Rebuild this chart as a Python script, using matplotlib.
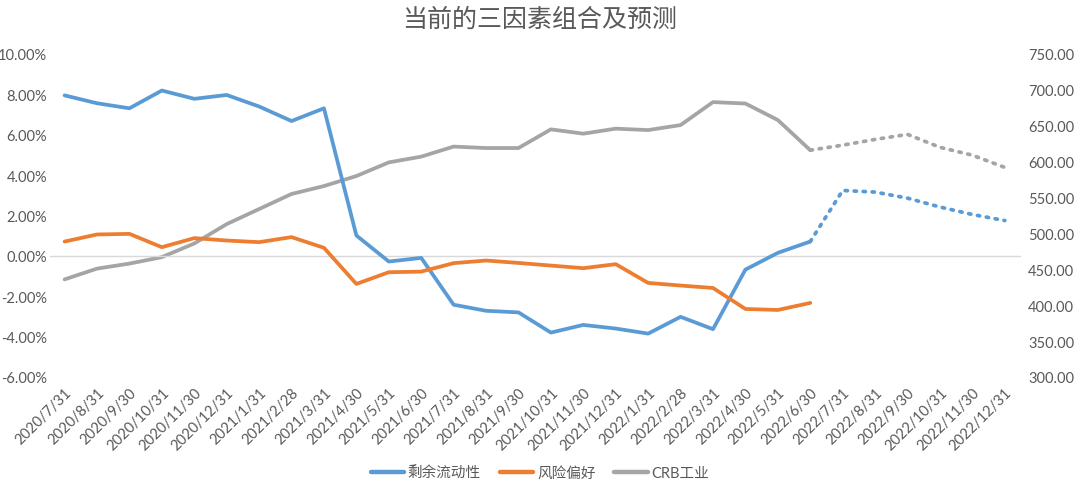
import numpy as np
import matplotlib
matplotlib.use("Agg")
import matplotlib.pyplot as plt
from matplotlib.ticker import FuncFormatter

plt.rcParams['font.family'] = ['Lato', 'Noto Sans CJK SC', 'DejaVu Sans']

dates = ["2020/7/31", "2020/8/31", "2020/9/30", "2020/10/31", "2020/11/30", "2020/12/31",
         "2021/1/31", "2021/2/28", "2021/3/31", "2021/4/30", "2021/5/31", "2021/6/30",
         "2021/7/31", "2021/8/31", "2021/9/30", "2021/10/31", "2021/11/30", "2021/12/31",
         "2022/1/31", "2022/2/28", "2022/3/31", "2022/4/30", "2022/5/31", "2022/6/30",
         "2022/7/31", "2022/8/31", "2022/9/30", "2022/10/31", "2022/11/30", "2022/12/31"]

# 剩余流动性 (%), actual through 2022/6/30
liquidity = [7.95, 7.56, 7.31, 8.19, 7.78, 7.97, 7.40, 6.68, 7.31, 1.01, -0.28, -0.10,
             -2.42, -2.72, -2.80, -3.80, -3.42, -3.60, -3.85, -3.02, -3.63, -0.68, 0.15, 0.71]
liquidity_fc = [0.71, 3.24, 3.16, 2.86, 2.42, 2.05, 1.75]   # 2022/6/30 .. 2022/12/31

# 风险偏好 (%)
risk = [0.71, 1.06, 1.09, 0.43, 0.88, 0.76, 0.68, 0.93, 0.40, -1.39, -0.81, -0.78,
        -0.36, -0.23, -0.35, -0.48, -0.61, -0.41, -1.34, -1.47, -1.59, -2.63, -2.68, -2.33]

# CRB工业 (right axis)
crb = [436, 451, 458, 467, 486, 513, 534, 555, 566, 580, 599, 607,
       621, 619, 619, 645, 639, 646, 644, 651, 683, 681, 658, 616]
crb_fc = [616, 623, 631, 638, 620, 609, 592]

blue = "#5B9BD5"
orange = "#ED7D31"
grey = "#A5A5A5"
txt = "#595959"

W, H = 1080, 489
fig = plt.figure(figsize=(W / 100, H / 100), dpi=100)
ax = fig.add_axes([50 / W, 1 - 378 / H, (1021 - 50) / W, (378 - 55) / H])
ax2 = ax.twinx()

x = np.arange(len(dates))
n = len(liquidity)
xf = x[n - 1:]

lw = 2.7
ax.axhline(0, color="#D9D9D9", lw=1, zorder=0)
ax2.plot(x[:n], crb, color=grey, lw=lw, solid_capstyle="round", label="CRB工业")
ax2.plot(xf, crb_fc, color=grey, lw=lw, ls=(0, (0.6, 1.8)), dash_capstyle="round")
ax.plot(x[:n], liquidity, color=blue, lw=lw, solid_capstyle="round", label="剩余流动性")
ax.plot(xf, liquidity_fc, color=blue, lw=lw, ls=(0, (0.6, 1.8)), dash_capstyle="round")
ax.plot(x[:n], risk, color=orange, lw=lw, solid_capstyle="round", label="风险偏好")
ax.set_zorder(ax2.get_zorder() + 1)
ax.patch.set_visible(False)

ax.set_xlim(-0.45, len(dates) - 0.5)
ax.set_ylim(-6, 10)
ax.set_yticks(np.arange(-6, 10.1, 2))
ax.yaxis.set_major_formatter(FuncFormatter(lambda v, p: f"{v:.2f}%"))
ax2.set_ylim(300, 750)
ax2.set_yticks(np.arange(300, 751, 50))
ax2.yaxis.set_major_formatter(FuncFormatter(lambda v, p: f"{v:.2f}"))

ax.set_xticks(x)
ax.set_xticklabels(dates, rotation=45, ha="right", rotation_mode="anchor")

for a in (ax, ax2):
    for s in a.spines.values():
        s.set_visible(False)
    a.tick_params(length=0, colors=txt, labelsize=10.5)
ax.tick_params(axis="y", pad=2)
ax.tick_params(axis="x", pad=6)
ax2.tick_params(axis="y", pad=5)

fig.suptitle("当前的三因素组合及预测", x=0.5, y=1 - 19 / H, va="center",
             fontsize=18, color=txt)

h1, l1 = ax.get_legend_handles_labels()
h2, l2 = ax2.get_legend_handles_labels()
leg = fig.legend(h1 + h2, l1 + l2, loc="center", bbox_to_anchor=(0.5, 1 - 474 / H), ncol=3,
                 frameon=False, fontsize=10.5, labelcolor=txt, handlelength=2.3,
                 handletextpad=0.25, columnspacing=1.3)
for ln in leg.get_lines():
    ln.set_linewidth(3.2)

fig.savefig("out.png", dpi=100)
